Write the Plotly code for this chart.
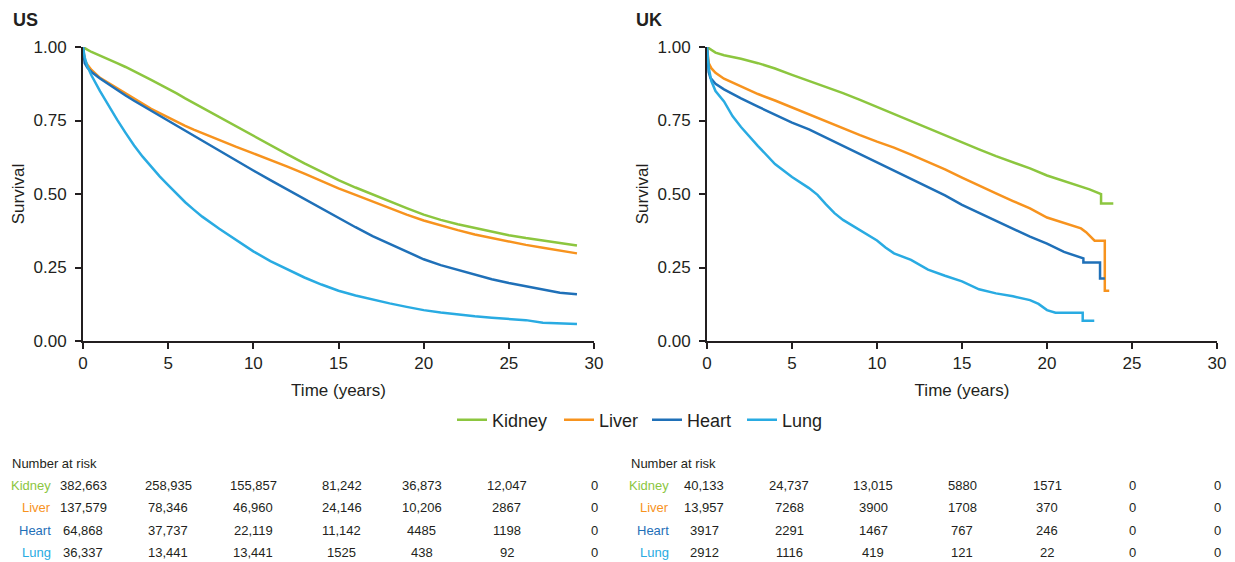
import plotly.graph_objects as go

# ---------------- data ----------------
organs = ["Kidney", "Liver", "Heart", "Lung"]
colors = {"Kidney": "#8cc63f", "Liver": "#f7931e", "Heart": "#1f70b8", "Lung": "#29abe2"}

us_time = [0, 0.1, 0.25, 0.5, 1, 1.5, 2, 2.5, 3, 3.5, 4, 4.5, 5, 5.5, 6, 6.5, 7,
           8, 9, 10, 11, 12, 13, 14, 15, 16, 17, 18, 19, 20, 21, 22, 23, 24, 25, 26, 27, 28, 29]
us_kidney = [1.0, 0.996, 0.991, 0.983, 0.971, 0.958, 0.945, 0.932, 0.918, 0.903, 0.888, 0.873,
             0.858, 0.842, 0.825, 0.809, 0.792,
             0.76, 0.728, 0.697, 0.666, 0.635, 0.604, 0.575, 0.547, 0.522, 0.498, 0.475, 0.452,
             0.43, 0.412, 0.397, 0.384, 0.371, 0.36, 0.35, 0.341, 0.333, 0.325]
us_liver = [1.0, 0.955, 0.94, 0.922, 0.895, 0.877, 0.86, 0.841, 0.823, 0.806, 0.79, 0.775,
            0.76, 0.746, 0.732, 0.719, 0.707,
            0.683, 0.66, 0.638, 0.616, 0.593, 0.569, 0.544, 0.519, 0.497, 0.474, 0.452, 0.43,
            0.41, 0.393, 0.377, 0.362, 0.35, 0.338, 0.327, 0.317, 0.307, 0.298]
us_heart = [1.0, 0.945, 0.93, 0.915, 0.893, 0.873, 0.853, 0.835, 0.817, 0.80, 0.782, 0.765,
            0.748, 0.731, 0.714, 0.697, 0.68,
            0.647, 0.614, 0.58, 0.547, 0.515, 0.483, 0.45, 0.418, 0.387, 0.357, 0.33, 0.303,
            0.278, 0.258, 0.242, 0.226, 0.21, 0.197, 0.186, 0.174, 0.164, 0.159]
us_lung = [1.0, 0.965, 0.935, 0.903, 0.85, 0.80, 0.753, 0.708, 0.665, 0.627, 0.592, 0.56,
           0.53, 0.50, 0.472, 0.447, 0.423,
           0.382, 0.343, 0.305, 0.272, 0.243, 0.216, 0.192, 0.171, 0.155, 0.141, 0.128, 0.116,
           0.105, 0.097, 0.09, 0.084, 0.079, 0.074, 0.071, 0.062, 0.059, 0.058]

uk_kidney_time = [0, 0.25, 0.5, 1, 2, 3, 4, 5, 6, 7, 8, 9, 10, 11, 12, 13, 14, 15, 16, 17,
                  18, 19, 20, 21, 22, 22.5, 23.18, 23.18, 23.9]
uk_kidney = [1.0, 0.99, 0.981, 0.972, 0.96, 0.945, 0.927, 0.905, 0.885, 0.864, 0.843, 0.82,
             0.796, 0.772, 0.746, 0.722, 0.70, 0.675, 0.652, 0.629, 0.608, 0.587, 0.563,
             0.545, 0.527, 0.516, 0.50, 0.468, 0.468]
uk_liver_time = [0, 0.05, 0.1, 0.25, 0.5, 1, 2, 3, 4, 5, 6, 7, 8, 9, 10, 11, 12, 13, 14, 15,
                 16, 17, 18, 19, 20, 21, 22, 22.3, 22.8, 23.4, 23.4, 23.66]
uk_liver = [1.0, 0.96, 0.945, 0.928, 0.912, 0.892, 0.866, 0.84, 0.818, 0.794, 0.772, 0.746,
            0.724, 0.70, 0.678, 0.658, 0.634, 0.61, 0.584, 0.556, 0.528, 0.502, 0.476, 0.451,
            0.42, 0.401, 0.383, 0.37, 0.341, 0.341, 0.171, 0.171]
uk_heart_time = [0, 0.05, 0.1, 0.2, 0.5, 1, 2, 3, 4, 5, 6, 7, 8, 9, 10, 11, 12, 13, 14, 15,
                 16, 17, 18, 19, 20, 21, 22.14, 22.14, 23.12, 23.12, 23.4]
uk_heart = [1.0, 0.94, 0.915, 0.895, 0.875, 0.856, 0.825, 0.797, 0.77, 0.743, 0.72, 0.692,
            0.664, 0.636, 0.608, 0.58, 0.552, 0.522, 0.495, 0.463, 0.436, 0.408, 0.382,
            0.355, 0.331, 0.303, 0.281, 0.267, 0.267, 0.213, 0.213]
uk_lung_time = [0, 0.1, 0.25, 0.5, 1, 1.5, 2, 3, 4, 5, 6, 6.5, 7, 7.5, 8, 9, 10, 10.5, 11,
                12, 13, 14, 15, 16, 17, 18, 19, 19.5, 20, 20.5, 22.1, 22.1, 22.78]
uk_lung = [1.0, 0.93, 0.885, 0.85, 0.815, 0.765, 0.728, 0.663, 0.602, 0.558, 0.52, 0.497,
           0.465, 0.435, 0.412, 0.378, 0.342, 0.318, 0.298, 0.276, 0.243, 0.222, 0.203,
           0.176, 0.162, 0.152, 0.139, 0.126, 0.105, 0.096, 0.096, 0.069, 0.069]

risk_times = [0, 5, 10, 15, 20, 25, 30]
us_risk_kidney = ["382,663", "258,935", "155,857", "81,242", "36,873", "12,047", "0"]
us_risk_liver = ["137,579", "78,346", "46,960", "24,146", "10,206", "2867", "0"]
us_risk_heart = ["64,868", "37,737", "22,119", "11,142", "4485", "1198", "0"]
us_risk_lung = ["36,337", "13,441", "13,441", "1525", "438", "92", "0"]
uk_risk_kidney = ["40,133", "24,737", "13,015", "5880", "1571", "0", "0"]
uk_risk_liver = ["13,957", "7268", "3900", "1708", "370", "0", "0"]
uk_risk_heart = ["3917", "2291", "1467", "767", "246", "0", "0"]
uk_risk_lung = ["2912", "1116", "419", "121", "22", "0", "0"]

x_ticks = [0, 5, 10, 15, 20, 25, 30]
y_ticks = [0, 0.25, 0.5, 0.75, 1.0]

# ---------------- figure ----------------
W, H = 1235, 562
FONT = "Liberation Sans, Arial, Helvetica, sans-serif"
TXT = "#231f20"


def px(v):
    return v / W


def py(v):
    return 1 - v / H


us_series = {"Kidney": (us_time, us_kidney), "Liver": (us_time, us_liver),
             "Heart": (us_time, us_heart), "Lung": (us_time, us_lung)}
uk_series = {"Kidney": (uk_kidney_time, uk_kidney), "Liver": (uk_liver_time, uk_liver),
             "Heart": (uk_heart_time, uk_heart), "Lung": (uk_lung_time, uk_lung)}
legend_ids = {"Kidney": "legend", "Liver": "legend2", "Heart": "legend3", "Lung": "legend4"}
legend_x = {"Kidney": 452, "Liver": 559, "Heart": 647, "Lung": 742}

fig = go.Figure()
for name in organs:
    t, s = us_series[name]
    fig.add_trace(go.Scatter(x=t, y=s, mode="lines", name=name, legendgroup=name,
                             legend=legend_ids[name],
                             line=dict(color=colors[name], width=2.5),
                             xaxis="x", yaxis="y"))
for name in organs:
    t, s = uk_series[name]
    fig.add_trace(go.Scatter(x=t, y=s, mode="lines", name=name, legendgroup=name,
                             showlegend=False,
                             line=dict(color=colors[name], width=2.5),
                             xaxis="x2", yaxis="y2"))

axis_common = dict(showgrid=False, zeroline=False, showline=True, linewidth=2,
                   linecolor=TXT, ticks="outside", ticklen=6, tickwidth=1.5,
                   tickcolor=TXT, tickfont=dict(size=17, color=TXT, family=FONT),
                   automargin=False, fixedrange=True)

y_domain = [py(341), py(47)]
layout = dict(
    width=W, height=H,
    margin=dict(l=0, r=0, t=0, b=0, autoexpand=False),
    paper_bgcolor="white", plot_bgcolor="white",
    font=dict(family=FONT, color=TXT),
    template="none",
    xaxis=dict(domain=[px(83), px(594)], range=[0, 30], tickvals=x_ticks,
               title=dict(text="Time (years)", font=dict(size=17, color=TXT), standoff=12),
               anchor="y", **axis_common),
    yaxis=dict(domain=y_domain, range=[0, 1], tickvals=y_ticks, tickformat=".2f",
               ticklabelstandoff=5,
               title=dict(text="Survival", font=dict(size=17, color=TXT), standoff=5),
               anchor="x", **axis_common),
    xaxis2=dict(domain=[px(707), px(1217)], range=[0, 30], tickvals=x_ticks,
                title=dict(text="Time (years)", font=dict(size=17, color=TXT), standoff=12),
                anchor="y2", **axis_common),
    yaxis2=dict(domain=y_domain, range=[0, 1], tickvals=y_ticks, tickformat=".2f",
                ticklabelstandoff=5,
                title=dict(text="Survival", font=dict(size=17, color=TXT), standoff=5),
                anchor="x2", **axis_common),
    showlegend=True,
)
for name in organs:
    layout[legend_ids[name]] = dict(orientation="h", x=px(legend_x[name]), xanchor="left",
                                    y=py(420), yanchor="middle",
                                    font=dict(size=18, color=TXT, family=FONT),
                                    bgcolor="rgba(0,0,0,0)", borderwidth=0, itemwidth=30)
fig.update_layout(**layout)

ann = []
# panel titles
ann.append(dict(text="<b>US</b>", x=px(11), y=py(20), xref="paper", yref="paper",
                xanchor="left", yanchor="middle", showarrow=False,
                font=dict(size=18, color=TXT, family=FONT)))
ann.append(dict(text="<b>UK</b>", x=px(634), y=py(20), xref="paper", yref="paper",
                xanchor="left", yanchor="middle", showarrow=False,
                font=dict(size=18, color=TXT, family=FONT)))

# number at risk tables
row_y = [485, 507.7, 530, 552.7]
tables = [
    ("x", 10, 53, [us_risk_kidney, us_risk_liver, us_risk_heart, us_risk_lung],
     [0, 0, 0, 3, -2, -2, 0]),
    ("x2", 629, 671, [uk_risk_kidney, uk_risk_liver, uk_risk_heart, uk_risk_lung],
     [-3, -3, -4, 0, 0, 0, 0]),
]
for xref, head_x, label_right, rows, shifts in tables:
    ann.append(dict(text="Number at risk", x=px(head_x), y=py(463.3), xref="paper",
                    yref="paper", xanchor="left", yanchor="middle", showarrow=False,
                    font=dict(size=13, color=TXT, family=FONT)))
    for name, vals, yy in zip(organs, rows, row_y):
        ann.append(dict(text=name, x=px(label_right), y=py(yy), xref="paper", yref="paper",
                        xanchor="right", yanchor="middle", showarrow=False,
                        font=dict(size=13, color=colors[name], family=FONT)))
        for t, v, sh in zip(risk_times, vals, shifts):
            ann.append(dict(text=v, x=t, y=py(yy), xref=xref, yref="paper",
                            xanchor="center", yanchor="middle", showarrow=False, xshift=sh,
                            font=dict(size=13, color=TXT, family=FONT)))

fig.update_layout(annotations=ann)
fig.write_html("out.html", config={"displayModeBar": False},
               post_script="document.body.style.margin='0px';document.body.style.padding='0px';")
